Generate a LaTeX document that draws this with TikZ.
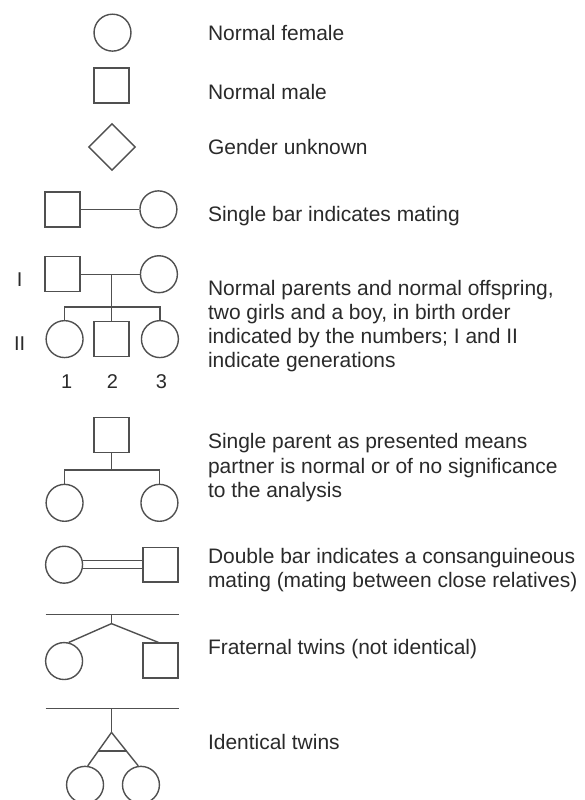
\documentclass[tikz,border=0pt]{standalone}
\usepackage{fontspec}
\setmainfont{Liberation Sans}
\usetikzlibrary{shapes.geometric,calc}
\definecolor{linecol}{HTML}{505050}
\definecolor{textcol}{HTML}{2A2A2A}
\begin{document}
\begin{tikzpicture}[x=1pt,y=-1pt,
  every path/.style={line width=1.4pt, draw=linecol},
  fem/.style={circle, draw=linecol, line width=1.4pt, minimum size=37pt, inner sep=0pt},
  mal/.style={rectangle, draw=linecol, line width=1.4pt, minimum size=35pt, inner sep=0pt},
  unk/.style={diamond, draw=linecol, line width=1.4pt, minimum width=47pt, minimum height=47pt, inner sep=0pt},
  desc/.style={anchor=base west, inner sep=0pt, align=left, text=textcol,
     font=\fontsize{21pt}{24.2pt}\selectfont},
  lab/.style={inner sep=0pt, anchor=base, text=textcol, font=\fontsize{20pt}{24pt}\selectfont}]
\useasboundingbox (0,0) rectangle (584,800);
\fill[white] (0,0) rectangle (584,800);

% 1 normal female
\node[fem] (f1) at (112,32) {};
\node[desc] (t1) at (207,40) {Normal female};
% 2 normal male
\node[mal] (m1) at (111,85) {};
\node[desc] (t2) at (207,99) {Normal male};
% 3 unknown
\node[unk] (u1) at (111.5,146.5) {};
\node[desc] (t3) at (207,154) {Gender unknown};
% 4 mating
\node[mal] (m4) at (62,209) {};
\node[fem] (f4) at (158,209) {};
\draw (m4) -- (f4);
\node[desc] (t4) at (207,221) {Single bar indicates mating};

% 5 parents and offspring
\node[lab] (g1) at (19,286) {I};
\node[lab] (g2) at (19,350) {II};
\node[mal] (m5) at (62,274) {};
\node[fem] (f5) at (158.5,274) {};
\coordinate (mid5) at (111,274);
\coordinate (sib5) at (111,307);
\node[fem] (c51) at (64,339) {};
\node[mal] (c52) at (111,339) {};
\node[fem] (c53) at (159.5,339) {};
\draw (m5) -- (f5);
\draw (mid5) -- (sib5);
\draw (c51.north) |- (sib5) -| (c53.north);
\draw (sib5) -- (c52.north);
\node[lab] (n1) at (66,388) {1};
\node[lab] (n2) at (112,388) {2};
\node[lab] (n3) at (161,388) {3};
\node[desc] (t5) at (207,367.6) {Normal parents and normal offspring,\\two girls and a boy, in birth order\\indicated by the numbers; I and II\\indicate generations};

% 6 single parent
\node[mal] (m6) at (111,435) {};
\coordinate (sib6) at (111,470);
\node[fem] (c61) at (64,503) {};
\node[fem] (c62) at (159,503) {};
\draw (m6) -- (sib6);
\draw (c61.north) |- (sib6) -| (c62.north);
\node[desc] (t6) at (207,497.4) {Single parent as presented means\\partner is normal or of no significance\\to the analysis};

% 7 consanguineous
\node[fem] (f7) at (63.5,565) {};
\node[mal] (m7) at (160,565) {};
\draw ($(f7.east)+(-0.5,-4)$) -- ($(m7.west)+(0,-4)$);
\draw ($(f7.east)+(-0.5,4)$) -- ($(m7.west)+(0,4)$);
\node[desc] (t7) at (207,588.2) {Double bar indicates a consanguineous\\mating (mating between close relatives)};

% 8 fraternal twins
\coordinate (b8l) at (45,615);
\coordinate (b8r) at (179,615);
\coordinate (b8m) at (111,615);
\coordinate (ap8) at (111,624);
\node[fem] (f8) at (63.5,661.5) {};
\node[mal] (m8) at (160,661) {};
\draw (b8l) -- (b8r);
\draw (b8m) -- (ap8);
\draw (ap8) -- (f8.76);
\draw (ap8) -- ($(m8.north)+(-2,0)$);
\node[desc] (t8) at (207,655) {Fraternal twins (not identical)};

% 9 identical twins
\coordinate (b9l) at (45,709);
\coordinate (b9r) at (179,709);
\coordinate (b9m) at (111,709);
\coordinate (ap9) at (111,733);
\node[fem] (f9a) at (84.5,785.5) {};
\node[fem] (f9b) at (140.5,785.5) {};
\draw (b9l) -- (b9r);
\draw (b9m) -- (ap9);
\draw (ap9) -- (f9a.82);
\draw (ap9) -- (f9b.98);
\draw ($(ap9)!0.56!(f9a.82)$) -- ($(ap9)!0.56!(f9b.98)$);
\node[desc] (t9) at (207,750) {Identical twins};
\end{tikzpicture}
\end{document}
